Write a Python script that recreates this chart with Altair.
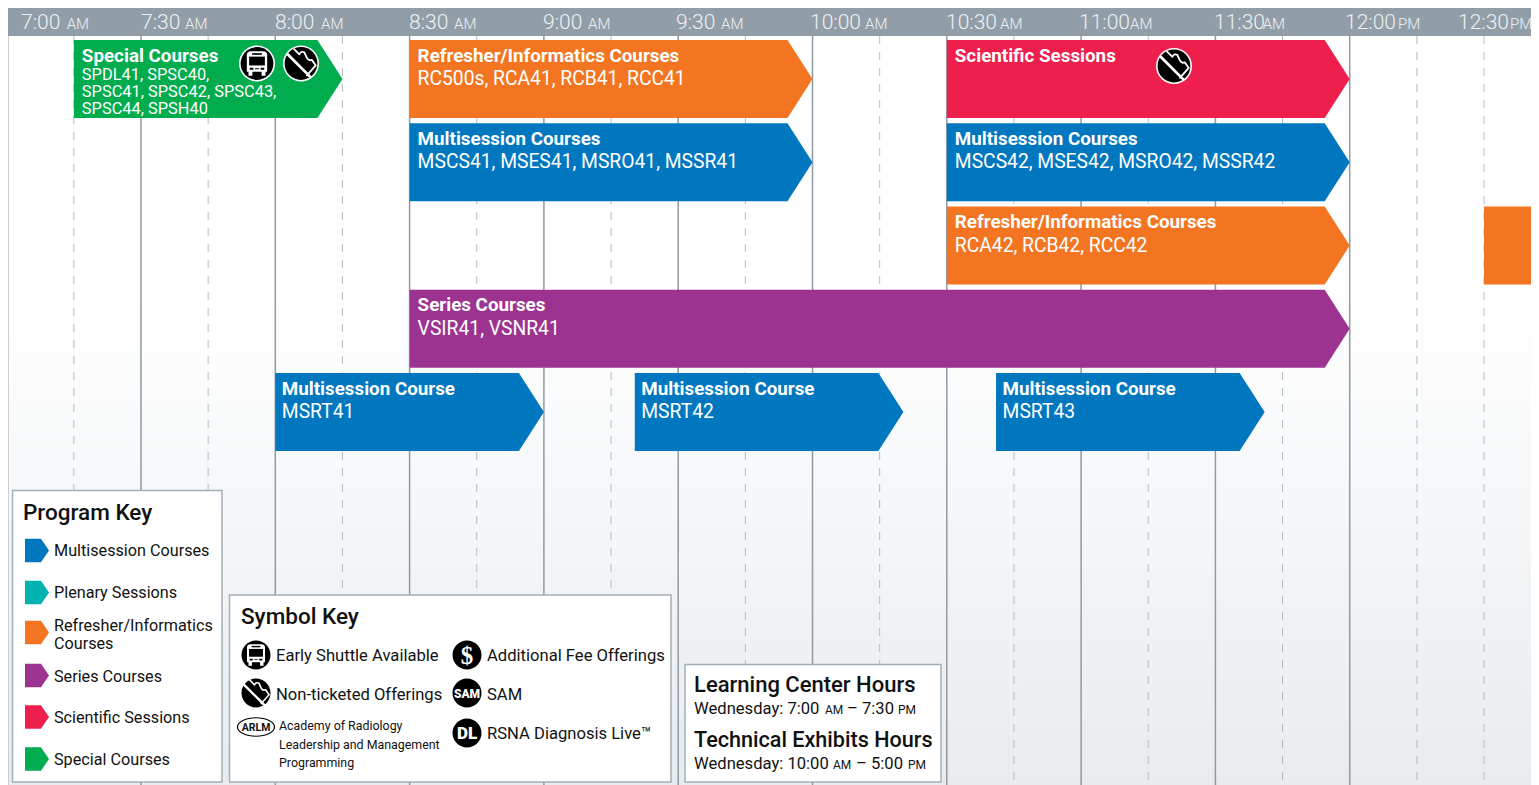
import altair as alt
import pandas as pd

# ---- data -------------------------------------------------------------
tick_minutes = [0, 30, 60, 90, 120, 150, 180, 210, 240, 270, 300, 330]
tick_times = ["7:00", "7:30", "8:00", "8:30", "9:00", "9:30", "10:00", "10:30", "11:00", "11:30", "12:00", "12:30"]
tick_periods = ["AM"] * 10 + ["PM"] * 2
solid_minutes = [30, 60, 90, 120, 150, 180, 210, 240, 270, 300]
dashed_minutes = [15, 45, 75, 105, 135, 165, 195, 225, 255, 285, 315, 330]

bar_program = ["Special Courses", "Refresher/Informatics Courses", "Multisession Courses", "Scientific Sessions",
               "Multisession Courses", "Refresher/Informatics Courses", "Series Courses",
               "Multisession Courses", "Multisession Courses", "Multisession Courses", "Refresher/Informatics Courses"]
bar_start = [15, 90, 90, 210, 210, 210, 90, 60, 140.3, 221, 330]
bar_end = [75, 180, 180, 300, 300, 300, 300, 120, 200.3, 281, 420]
bar_row = [0, 0, 1, 0, 1, 2, 3, 4, 4, 4, 2]
bar_title = ["Special Courses", "Refresher/Informatics Courses", "Multisession Courses", "Scientific Sessions",
             "Multisession Courses", "Refresher/Informatics Courses", "Series Courses",
             "Multisession Course", "Multisession Course", "Multisession Course", ""]
bar_codes = ["", "RC500s, RCA41, RCB41, RCC41", "MSCS41, MSES41, MSRO41, MSSR41", "",
             "MSCS42, MSES42, MSRO42, MSSR42", "RCA42, RCB42, RCC42", "VSIR41, VSNR41",
             "MSRT41", "MSRT42", "MSRT43", ""]
special_codes = ["SPDL41, SPSC40,", "SPSC41, SPSC42, SPSC43,", "SPSC44, SPSH40"]

programs = ["Multisession Courses", "Plenary Sessions", "Refresher/Informatics Courses",
            "Series Courses", "Scientific Sessions", "Special Courses"]
program_colors = ["#0077bf", "#00b2b0", "#f47521", "#9c3391", "#ee1f4d", "#00ac4e"]

# ---- layout -----------------------------------------------------------
W, H = 1523, 777
RIGHT = 8 + W
PX_MIN = 4.4767
X0 = 6.7
ROW_TOP, ROW_PITCH, ROW_H = 40.0, 83.25, 78.0
TIP = 25 / PX_MIN
FONT = "Roboto"
xscale = alt.Scale(domain=[(8 - X0) / PX_MIN, (RIGHT - X0) / PX_MIN], nice=False, zero=False)
yscale = alt.Scale(domain=[(785 - ROW_TOP) / ROW_PITCH, (8 - ROW_TOP) / ROW_PITCH], nice=False, zero=False)
one = alt.Data(values=[{"a": 1}])
hh = ROW_H / ROW_PITCH


def X(f, t="Q"):
    return alt.X(f"{f}:{t}", scale=xscale, axis=None)


def Y(f):
    return alt.Y(f"{f}:Q", scale=yscale, axis=None, stack=None)


def rect(x0, y0, x1, y1, **kw):
    return alt.Chart(one).mark_rect(**kw).encode(
        x=alt.value(x0 - 8), x2=alt.value(x1 - 8), y=alt.value(y0 - 8), y2=alt.value(y1 - 8))


def text(s, px, py, size, color="#111111", weight=400, align="left", font=FONT):
    return alt.Chart(one).mark_text(
        text=s, x=px - 8, y=py - 8, fontSize=size, color=color, fontWeight=weight, font=font,
        align=align, baseline="alphabetic")


def sym(path, cx, cy, r, fill=None, stroke=None, sw=1.0):
    kw = dict(shape=path, x=cx - 8, y=cy - 8, size=(2 * r) ** 2, opacity=1)
    if fill:
        kw.update(filled=True, fill=fill, strokeWidth=0)
    else:
        kw.update(filled=False, stroke=stroke, strokeWidth=sw, strokeCap="round", strokeJoin="round")
    return alt.Chart(one).mark_point(**kw)


CIRCLE = "M-1,0 A1,1 0 1 1 1,0 A1,1 0 1 1 -1,0 Z"


def base_icon(cx, cy, r, ring=True):
    out = []
    if ring:
        out.append(sym(CIRCLE, cx, cy, r + 1.6, fill="#ffffff"))
    out.append(sym(CIRCLE, cx, cy, r, fill="#000000"))
    return out


def bus(cx, cy, r, ring=True):
    out = base_icon(cx, cy, r, ring)
    out.append(sym("M-0.62,-0.52 Q-0.62,-0.74 -0.35,-0.74 L0.35,-0.74 Q0.62,-0.74 0.62,-0.52 L0.62,0.5 L0.52,0.5 L0.52,0.74 L0.28,0.74 L0.28,0.5 L-0.28,0.5 L-0.28,0.74 L-0.52,0.74 L-0.52,0.5 L-0.62,0.5 Z",
                   cx, cy, r, fill="#ffffff"))
    out.append(sym("M-0.3,-0.63 L0.3,-0.63 L0.3,-0.53 L-0.3,-0.53 Z", cx, cy, r, fill="#000000"))
    out.append(sym("M-0.48,-0.42 L0.48,-0.42 L0.48,0.12 L-0.48,0.12 Z", cx, cy, r, fill="#000000"))
    out.append(sym("M-0.44,0.26 L-0.22,0.26 L-0.22,0.38 L-0.44,0.38 Z M0.22,0.26 L0.44,0.26 L0.44,0.38 L0.22,0.38 Z M-0.12,0.29 L0.12,0.29 L0.12,0.35 L-0.12,0.35 Z",
                   cx, cy, r, fill="#000000"))
    return out


def noticket(cx, cy, r, ring=True):
    out = base_icon(cx, cy, r, ring)
    k = r / 18
    out.append(sym("M-0.8,-0.55 L0.55,0.8", cx, cy, r, stroke="#ffffff", sw=3.0 * k))
    out.append(sym("M-0.42,-0.88 L-0.1,-0.56 Q0,-0.78 0.2,-0.68 L0.36,-0.34 Q0.46,-0.14 0.66,-0.22 L0.9,0.12 L0.36,0.72",
                   cx, cy, r, stroke="#ffffff", sw=2.0 * k))
    return out


# ---- bars -------------------------------------------------------------
rows = []
for i in range(len(bar_start)):
    s, e, rw = bar_start[i], bar_end[i], bar_row[i]
    rows += [
        {"id": i, "p": bar_program[i], "t": s, "top": rw, "bot": rw + hh},
        {"id": i, "p": bar_program[i], "t": e - TIP, "top": rw, "bot": rw + hh},
        {"id": i, "p": bar_program[i], "t": e, "top": rw + hh / 2, "bot": rw + hh / 2},
    ]
bars = alt.Chart(pd.DataFrame(rows)).mark_area(interpolate="linear", orient="vertical", clip=True, opacity=1).encode(
    x=X("t"), y=Y("top"), y2="bot:Q",
    color=alt.Color("p:N", scale=alt.Scale(domain=programs, range=program_colors), legend=None),
    detail="id:N",
)

titles_df = pd.DataFrame({"t": bar_start, "title": bar_title, "codes": bar_codes, "row": bar_row})
titles_df = titles_df[titles_df.title != ""].copy()
titles_df["ty"] = titles_df.row + 21.5 / ROW_PITCH
titles_df["cy"] = titles_df.row + 45 / ROW_PITCH
titles_df["tx"] = titles_df.t - (titles_df.row == 4) * 1.5 / PX_MIN
title_layer = alt.Chart(titles_df).mark_text(
    align="left", baseline="alphabetic", dx=8, color="#ffffff", font=FONT, fontWeight=700, fontSize=18.8
).encode(x=X("tx"), y=Y("ty"), text="title:N")
codes_layer = alt.Chart(titles_df[titles_df.codes != ""]).mark_text(
    align="left", baseline="alphabetic", dx=8, color="#ffffff", font=FONT, fontSize=19.3
).encode(x=X("tx"), y=Y("cy"), text="codes:N")
sp_df = pd.DataFrame({"t": [15, 15, 15], "y": [39.5 / ROW_PITCH, 56.5 / ROW_PITCH, 74 / ROW_PITCH], "s": special_codes})
sp_layer = alt.Chart(sp_df).mark_text(
    align="left", baseline="alphabetic", dx=8, color="#ffffff", font=FONT, fontSize=16.4
).encode(x=X("t"), y=Y("y"), text="s:N")

# ---- frame ------------------------------------------------------------
bg = alt.Chart(one).mark_rect(color=alt.LinearGradient(
    gradient="linear", x1=0, x2=0, y1=0, y2=1,
    stops=[alt.GradientStop(offset=0, color="#ffffff"), alt.GradientStop(offset=0.35, color="#ffffff"),
           alt.GradientStop(offset=1, color="#e8ecef")])).encode(
    x=alt.value(0), x2=alt.value(W), y=alt.value(28), y2=alt.value(H))
left_edge = rect(8, 36, 9, 785, color="#c9d0d5")
header = rect(8, 8, RIGHT, 36, color="#929ea7")
solid = alt.Chart(pd.DataFrame({"t": solid_minutes})).mark_rule(color="#8e9aa4", strokeWidth=1.5).encode(
    x=X("t"), y=alt.value(28), y2=alt.value(H))
dashed = alt.Chart(pd.DataFrame({"t": dashed_minutes})).mark_rule(color="#b4bcc3", strokeWidth=1, strokeDash=[8, 8]).encode(
    x=X("t"), y=alt.value(28), y2=alt.value(H))

layers = [bg, left_edge, dashed, solid, header]

# header labels
lab_x = [21, 141, 275, 409, 543, 676, 810, 946, 1079, 1214, 1345, 1458]
lab_off = [45.7, 44, 46, 45, 45, 45, 55, 54, 51, 48.7, 53, 52]
for t, per, lx, off in zip(tick_times, tick_periods, lab_x, lab_off):
    layers.append(text(t, lx, 29, 21, color="#eef1f3", weight=300))
    layers.append(text(per, lx + off, 29, 15, color="#eef1f3", weight=300))

layers += [bars, title_layer, codes_layer, sp_layer]
layers += bus(257, 63.5, 16.4) + noticket(301, 63.5, 16.4) + noticket(1174, 66, 16.4)

# program key
layers.append(rect(12.5, 490.5, 222, 782, fill="#ffffff", stroke="#a3afb8", strokeWidth=1.5))
layers.append(text("Program Key", 23, 520, 22.5, weight=500))
ARROW = "M-1,-0.97 L0.33,-0.97 L1,0 L0.33,0.97 L-1,0.97 Z"
key_y = [550.5, 592.5, 632.5, 675.5, 717, 759]
for c, ky in zip(program_colors, key_y):
    layers.append(sym(ARROW, 37, ky, 12, fill=c))
for s, by in [("Multisession Courses", 556), ("Plenary Sessions", 598), ("Refresher/Informatics", 631), ("Courses", 649),
              ("Series Courses", 682), ("Scientific Sessions", 723), ("Special Courses", 765)]:
    layers.append(text(s, 54, by, 16.2))

# symbol key
layers.append(rect(229.5, 595, 671, 782, fill="#ffffff", stroke="#a3afb8", strokeWidth=1.5))
layers.append(text("Symbol Key", 241, 624, 22.5, weight=500))
layers += bus(256, 655, 14.5, ring=False) + noticket(256, 693, 14.5, ring=False)
layers += base_icon(467, 655, 14.5, ring=False) + base_icon(467, 693, 14.5, ring=False) + base_icon(467, 733, 14.5, ring=False)
layers.append(text("$", 467, 664, 25, color="#ffffff", weight=700, align="center", font="Liberation Serif"))
layers.append(text("SAM", 467, 698, 12, color="#ffffff", weight=900, align="center"))
layers.append(text("DL", 467, 739, 17, color="#ffffff", weight=900, align="center"))
layers.append(sym("M-1,0 A1,0.5 0 1 1 1,0 A1,0.5 0 1 1 -1,0 Z", 256, 727, 18.5, stroke="#000000", sw=1.2))
layers.append(text("ARLM", 256, 731, 10.5, weight=700, align="center"))
for s, lx, by in [("Early Shuttle Available", 276, 661), ("Additional Fee Offerings", 487, 661),
                  ("Non-ticketed Offerings", 276, 700), ("SAM", 487, 700), ("RSNA Diagnosis Live\u2122", 487, 739)]:
    layers.append(text(s, lx, by, 16.6))
for s, by in [("Academy of Radiology", 730), ("Leadership and Management", 749), ("Programming", 767)]:
    layers.append(text(s, 279, by, 12.4))

# hours
layers.append(rect(685, 664.5, 941, 782, fill="#ffffff", stroke="#a3afb8", strokeWidth=1.5))
layers.append(text("Learning Center Hours", 694, 692, 22, weight=500))
layers.append(text("Technical Exhibits Hours", 694, 747, 21.6, weight=500))
layers.append(text("Wednesday: 7:00", 694, 714, 16.6))
layers.append(text("AM", 825, 714, 12))
layers.append(text("\u2013 7:30", 847, 714, 16.6))
layers.append(text("PM", 898, 714, 12))
layers.append(text("Wednesday: 10:00", 694, 769, 16.6))
layers.append(text("AM", 833, 769, 12))
layers.append(text("\u2013 5:00", 856, 769, 16.6))
layers.append(text("PM", 908, 769, 12))

chart = alt.layer(*layers).properties(
    width=W, height=H, padding=0, autosize=alt.AutoSizeParams(type="none", contains="padding")
).configure_view(stroke=None)

chart.save("out.html", embed_options={"renderer": "svg", "actions": False})
